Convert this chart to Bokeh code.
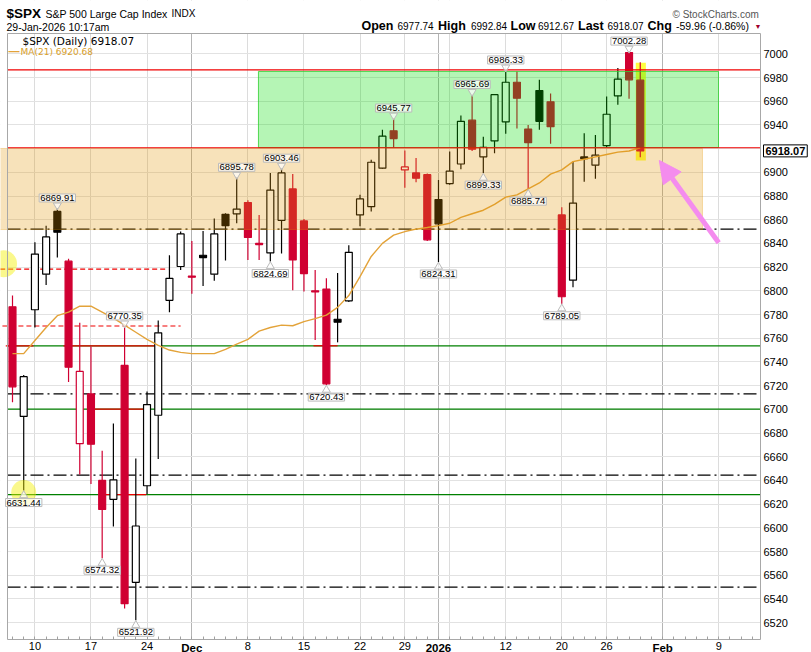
from bokeh.plotting import figure
from bokeh.models import FixedTicker, Label, Grid, Arrow, NormalHead, LinearAxis
from bokeh.embed import file_html
from bokeh.resources import INLINE

# ---------------- data ----------------
dates = ["Nov 6", "Nov 7", "Nov 10", "Nov 11", "Nov 12", "Nov 13", "Nov 14", "Nov 17", "Nov 18",
         "Nov 19", "Nov 20", "Nov 21", "Nov 24", "Nov 25", "Nov 26", "Nov 28", "Dec 1", "Dec 2",
         "Dec 3", "Dec 4", "Dec 5", "Dec 8", "Dec 9", "Dec 10", "Dec 11", "Dec 12", "Dec 15",
         "Dec 16", "Dec 17", "Dec 18", "Dec 19", "Dec 22", "Dec 23", "Dec 24", "Dec 26", "Dec 29",
         "Dec 30", "Dec 31", "Jan 2", "Jan 5", "Jan 6", "Jan 7", "Jan 8", "Jan 9", "Jan 12",
         "Jan 13", "Jan 14", "Jan 15", "Jan 16", "Jan 20", "Jan 21", "Jan 22", "Jan 23", "Jan 26",
         "Jan 27", "Jan 28", "Jan 29"]
opens = [6786.5, 6694.0, 6784.0, 6814.0, 6867.0, 6825.0, 6671.0, 6713.0, 6640.0, 6624.0,
         6737.0, 6554.0, 6635.5, 6695.0, 6792.0, 6820.5, 6812.5, 6830.0, 6814.0, 6864.5,
         6865.0, 6874.5, 6840.0, 6832.0, 6859.5, 6886.0, 6859.0, 6800.0, 6801.5, 6776.0,
         6791.5, 6864.0, 6871.0, 6903.5, 6935.0, 6902.0, 6899.5, 6898.0, 6877.0, 6890.5,
         6907.0, 6944.0, 6913.0, 6926.5, 6942.5, 6976.0, 6936.5, 6969.0, 6959.5, 6864.0,
         6809.0, 6913.0, 6906.0, 6922.5, 6964.5, 7001.0, 6977.74]
highs = [6796.0, 6729.0, 6841.0, 6855.0, 6869.91, 6827.0, 6773.0, 6753.0, 6665.0, 6688.0,
         6770.35, 6658.5, 6715.0, 6775.0, 6830.0, 6850.0, 6842.0, 6850.5, 6861.0, 6865.5,
         6895.78, 6876.5, 6864.0, 6899.5, 6903.46, 6898.5, 6860.5, 6817.5, 6810.5, 6815.0,
         6838.5, 6881.0, 6910.5, 6936.0, 6945.77, 6918.5, 6912.0, 6899.0, 6893.5, 6917.5,
         6948.0, 6965.69, 6930.0, 6966.0, 6986.33, 6985.0, 6940.0, 6978.0, 6966.5, 6870.5,
         6909.0, 6933.0, 6931.5, 6964.0, 6988.0, 7002.28, 6992.84]
lows = [6706.0, 6631.44, 6769.0, 6805.0, 6828.0, 6723.0, 6645.0, 6637.0, 6574.32, 6601.0,
        6532.0, 6521.92, 6628.5, 6658.0, 6782.0, 6817.5, 6797.5, 6804.0, 6808.5, 6825.5,
        6857.0, 6826.0, 6826.0, 6824.69, 6831.5, 6800.5, 6799.5, 6758.5, 6720.43, 6756.5,
        6790.5, 6854.5, 6867.0, 6903.0, 6921.0, 6887.0, 6891.5, 6842.0, 6824.31, 6889.5,
        6902.5, 6918.0, 6899.33, 6916.0, 6932.5, 6937.0, 6885.74, 6936.0, 6924.0, 6789.05,
        6803.0, 6892.0, 6894.5, 6921.0, 6957.0, 6962.0, 6912.67]
closes = [6719.0, 6727.5, 6831.0, 6845.5, 6849.5, 6735.5, 6732.0, 6670.5, 6615.5, 6640.5,
          6536.0, 6601.5, 6704.0, 6764.5, 6810.5, 6848.0, 6811.5, 6828.0, 6848.0, 6855.0,
          6869.0, 6845.0, 6839.0, 6885.0, 6899.5, 6826.0, 6814.5, 6799.0, 6721.5, 6773.5,
          6832.5, 6877.5, 6908.5, 6930.5, 6928.5, 6904.5, 6895.0, 6843.0, 6856.5, 6901.0,
          6943.0, 6919.5, 6921.0, 6965.5, 6976.0, 6962.5, 6925.0, 6943.0, 6938.5, 6795.0,
          6874.0, 6911.5, 6914.5, 6949.0, 6978.6, 6978.03, 6918.07]
ma21 = [6747.0, 6747.0, 6758.0, 6769.0, 6779.0, 6782.0, 6787.0, 6787.0, 6782.0, 6777.0,
        6771.0, 6765.0, 6759.0, 6754.0, 6750.0, 6748.0, 6747.0, 6747.0, 6747.0, 6750.5,
        6755.0, 6759.0, 6766.0, 6769.0, 6771.0, 6770.5, 6774.0, 6776.5, 6779.5, 6786.0,
        6796.0, 6812.0, 6829.0, 6840.0, 6847.0, 6850.0, 6852.0, 6853.4, 6855.0, 6857.0,
        6862.0, 6865.0, 6868.0, 6873.0, 6879.0, 6881.0, 6886.0, 6891.0, 6898.5, 6902.0,
        6909.0, 6911.0, 6913.0, 6915.0, 6917.0, 6918.0, 6920.68]

day_tick_idx = [2, 7, 12, 21, 26, 31, 35, 44, 49, 53, 63]
day_tick_labels = ["10", "17", "24", "8", "15", "22", "29", "12", "20", "26", "9"]
month_tick_idx = [16, 38, 58]
month_tick_labels = ["Dec", "2026", "Feb"]
week_grid_idx = [2, 7, 12, 16, 21, 26, 31, 35, 39, 44, 49, 53, 58, 63]
ytick_vals = list(range(6520, 7001, 20))

high_label_idx = [4, 10, 20, 24, 34, 41, 44, 55]
low_label_idx = [1, 8, 11, 23, 28, 38, 42, 46, 49]

dashdot_levels = [6852.0, 6713.0, 6644.5, 6550.0]
green_levels = [6753.6, 6700.2, 6628.0]
red_levels = [6986.5, 6920.7]
red_dash_levels = [6818.3, 6770.3]
red_dash_x0 = [-1.1, -0.9]
red_dash_x1 = [13.9, 15.0]
red_seg_levels = [6753.6, 6753.6, 6753.6, 6700.2, 6628.0]
red_seg_x0 = [-0.6, 4.55, 26.85, 6.7, 7.85]
red_seg_x1 = [1.87, 12.93, 29.0, 12.0, 11.93]

green_zone = dict(left=21.94, right=62.98, bottom=6920.9, top=6985.1)
orange_zone = dict(left=-1.2, right=61.55, bottom=6851.7, top=6920.1)
highlight_box = dict(left=55.6, right=56.5, bottom=6910.0, top=6992.4)
circle_x = [-0.8, 1.0]
circle_y = [6822.8, 6629.7]
arrow_tail = (63.0, 6840.5)
arrow_tip = (57.7, 6910.0)

# ---------------- layout geometry (page pixels) ----------------
W, H = 811, 652
PX_DAY, X0_PX = 11.21, 12.0           # page x of session 0
PX_PT, Y7000_PX = 1.185, 53.3         # page y of 7000
def xi(px): return (px - X0_PX) / PX_DAY
def yp(py): return 7000 - (py - Y7000_PX) / PX_PT

X_LO, X_HI = xi(0), xi(W)
Y_LO, Y_HI = yp(H), yp(0)
BOX_L, BOX_R = xi(7), xi(760)
BOX_T, BOX_B = yp(33), yp(639)

# ---------------- derived ----------------
n = len(closes)
idx = list(range(n))
RED = "#D00032"
BLACK = "#000000"
prev_close = [closes[0] + 1] + closes[:-1]   # first session shown as a down day
colors = [RED if c < pc else BLACK for c, pc in zip(closes, prev_close)]
fills = ["white" if c > o else col for o, c, col in zip(opens, closes, colors)]
tops = [max(o, c) for o, c in zip(opens, closes)]
bots = [min(o, c) for o, c in zip(opens, closes)]

p = figure(width=W, height=H, x_range=(X_LO, X_HI), y_range=(Y_LO, Y_HI),
           output_backend="svg", toolbar_location=None,
           x_axis_location=None, y_axis_location=None, min_border=0)
p.background_fill_color = "white"
p.border_fill_color = "white"
p.outline_line_color = None
for g in p.grid:
    g.visible = False

# grids
p.add_layout(Grid(dimension=0, ticker=FixedTicker(ticks=week_grid_idx), grid_line_color="#DCDCDC"))
p.add_layout(Grid(dimension=0, ticker=FixedTicker(ticks=month_tick_idx), grid_line_color="#B4B4B4"))
p.add_layout(Grid(dimension=1, ticker=FixedTicker(ticks=ytick_vals), grid_line_color="#E2E2E2"))

# axes drawn at the edges of the chart box
xax = LinearAxis(fixed_location=BOX_B,
                 ticker=FixedTicker(ticks=day_tick_idx, minor_ticks=list(range(0, 67))),
                 major_label_overrides=dict(zip(day_tick_idx, day_tick_labels)),
                 major_tick_in=0, major_tick_out=0, minor_tick_in=3, minor_tick_out=0,
                 minor_tick_line_color="#A0A0A0", axis_line_color=None,
                 major_label_standoff=2, major_label_text_font="Liberation Sans",
                 major_label_text_font_size="11px", major_label_text_color="black")
xax_m = LinearAxis(fixed_location=BOX_B, ticker=FixedTicker(ticks=month_tick_idx),
                   major_label_overrides=dict(zip(month_tick_idx, month_tick_labels)),
                   major_tick_in=0, major_tick_out=0, minor_tick_line_color=None,
                   axis_line_color=None, major_label_standoff=2,
                   major_label_text_font="Liberation Sans", major_label_text_font_size="11.5px",
                   major_label_text_font_style="bold", major_label_text_color="black")
yax = LinearAxis(fixed_location=BOX_R, ticker=FixedTicker(ticks=ytick_vals),
                 major_tick_in=0, major_tick_out=0, minor_tick_line_color=None,
                 axis_line_color=None, major_label_standoff=3,
                 major_label_text_font="Liberation Sans", major_label_text_font_size="11px",
                 major_label_text_color="black")
p.add_layout(xax, "below")
p.add_layout(xax_m, "below")
p.add_layout(yax, "right")

# white masks outside the chart box (hide grid lines there)
p.quad(left=[X_LO, BOX_R, X_LO, X_LO], right=[BOX_L, X_HI, X_HI, X_HI],
       bottom=[Y_LO, Y_LO, BOX_T, Y_LO], top=[Y_HI, Y_HI, Y_HI, BOX_B],
       fill_color="white", line_color=None)

# highlight of the last session
p.quad(left=[highlight_box["left"]], right=[highlight_box["right"]],
       bottom=[highlight_box["bottom"]], top=[highlight_box["top"]],
       fill_color="#FFFF00", fill_alpha=0.75, line_color=None)

# horizontal level lines
def full(levels):
    return dict(x0=[BOX_L] * len(levels), x1=[BOX_R] * len(levels), y0=levels, y1=levels)

p.segment(**full(dashdot_levels), line_color="black", line_width=1.2, line_dash="13 4 2 4")
p.segment(**full(green_levels), line_color="#008000", line_width=1.2)
p.segment(x0=red_seg_x0, x1=red_seg_x1, y0=red_seg_levels, y1=red_seg_levels,
          line_color="#F00000", line_width=1.2)
p.segment(x0=red_dash_x0, x1=red_dash_x1, y0=red_dash_levels, y1=red_dash_levels,
          line_color="#F00000", line_width=1.2, line_dash="5 3")

# candles
p.segment(x0=idx, x1=idx, y0=lows, y1=highs, line_color=colors, line_width=1.2)
p.vbar(x=idx, top=tops, bottom=bots, width=0.62, fill_color=fills, line_color=colors,
       line_width=1.2)

# moving average
p.line(idx, ma21, line_color="#E3A33A", line_width=1.4)

# zones (semi-transparent overlays)
p.quad(left=[orange_zone["left"]], right=[orange_zone["right"]], bottom=[orange_zone["bottom"]],
       top=[orange_zone["top"]], fill_color=(226, 148, 0), fill_alpha=0.27,
       line_color=(226, 148, 0), line_alpha=0.3)
p.quad(left=[green_zone["left"]], right=[green_zone["right"]], bottom=[green_zone["bottom"]],
       top=[green_zone["top"]], fill_color=(0, 220, 0), fill_alpha=0.29,
       line_color="#30D030", line_alpha=0.8)

p.segment(**full(red_levels), line_color="#F00000", line_width=1.2)

# yellow marker circles
p.scatter(circle_x, circle_y, size=[27, 25], fill_color="#F4F000", fill_alpha=0.45,
          line_color=None)

# chart box outline
p.quad(left=[BOX_L], right=[BOX_R], bottom=[BOX_B], top=[BOX_T], fill_color=None,
       line_color="#A8A8A8", line_width=1)

# arrow
PINK = "#F48CEE"
p.add_layout(Arrow(end=NormalHead(size=22, fill_color=PINK, line_color=PINK),
                   x_start=arrow_tail[0], y_start=arrow_tail[1],
                   x_end=arrow_tip[0], y_end=arrow_tip[1],
                   line_color=PINK, line_width=5))

# small pointers under / over the value boxes
p.scatter([i for i in high_label_idx], [highs[i] + 2.6 / PX_PT for i in high_label_idx],
          marker="inverted_triangle", size=8, fill_color="white", fill_alpha=0.7,
          line_color="#BBBBBB")
p.scatter([i for i in low_label_idx], [lows[i] - 4.8 / PX_PT for i in low_label_idx],
          marker="triangle", size=8, fill_color="white", fill_alpha=0.7,
          line_color="#BBBBBB")

# value labels on highs / lows
def value_label(i, v, above):
    return Label(x=i, y=v, text=f"{v:.2f}", text_align="center",
                 text_baseline="bottom" if above else "top",
                 y_offset=6 if above else -8,
                 text_font="Liberation Sans", text_font_size="9.5px", text_color="black",
                 background_fill_color="white", background_fill_alpha=0.7,
                 border_line_color="#BBBBBB", border_line_width=1, padding=1)

for i in high_label_idx:
    p.add_layout(value_label(i, highs[i], True))
for i in low_label_idx:
    p.add_layout(value_label(i, lows[i], False))

# last price box on the axis
p.add_layout(Label(x=763, y=closes[-1], x_units="screen", text=f"{closes[-1]:.2f}",
                   text_align="left", text_baseline="middle", text_font="Liberation Sans",
                   text_font_size="11px", text_font_style="bold", text_color="black",
                   background_fill_color="white", border_line_color="black",
                   border_line_width=1, padding=2))

# texts positioned in page pixels
def scr_label(x, y, text, size="11px", bold=False, color="black", font="Liberation Sans"):
    return Label(x=x, y=H - y, x_units="screen", y_units="screen", text=text,
                 text_align="left", text_baseline="middle", text_font=font,
                 text_font_size=size, text_font_style="bold" if bold else "normal",
                 text_color=color)

# legend inside the chart
p.add_layout(scr_label(22, 40, f"$SPX (Daily) {closes[-1]:.2f}", "10.5px", font="DejaVu Sans"))
p.add_layout(scr_label(8, 50, "\u2014", "11px", True, "#E3A33A"))
p.add_layout(scr_label(20, 51, f"MA(21) {ma21[-1]:.2f}", "9px", color="#D9A02A",
                       font="DejaVu Sans"))

# header above the chart
o, h, l, c = opens[-1], highs[-1], lows[-1], closes[-1]
chg = c - closes[-2]
pct = chg / closes[-2] * 100
p.add_layout(scr_label(6, 13, "$SPX", "13.5px", True))
p.add_layout(scr_label(45, 13, "S&P 500 Large Cap Index", "10.5px"))
p.add_layout(scr_label(171, 13, "INDX", "10px"))
p.add_layout(scr_label(672, 14, "\u00a9 StockCharts.com", "10px", color="#555555"))
p.add_layout(scr_label(6, 26, "29-Jan-2026 10:17am", "10.5px"))
header = [(361, "Open", True, "12.5px"), (397, f"{o:.2f}", False, "10px"),
          (437.5, "High", True, "12.5px"), (470.5, f"{h:.2f}", False, "10px"),
          (510, "Low", True, "12.5px"), (537.5, f"{l:.2f}", False, "10px"),
          (577.5, "Last", True, "12.5px"), (607, f"{c:.2f}", False, "10px"),
          (647, "Chg", True, "12.5px"), (675.5, f"{chg:.2f} ({pct:.2f}%)", False, "10.5px")]
for x, t, b, s in header:
    p.add_layout(scr_label(x, 25, t, s, b))
p.add_layout(scr_label(754, 26, "\u25bc", "7px", color="#A0002A"))

open("out.html", "w").write(file_html(p, INLINE))
